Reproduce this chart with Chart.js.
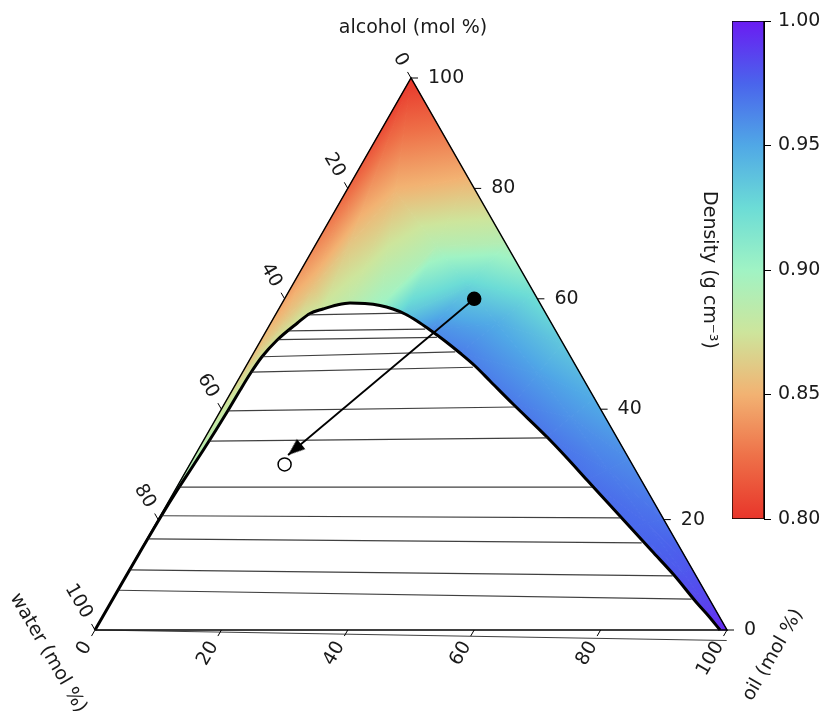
<!DOCTYPE html>
<html>
<head>
<meta charset="utf-8">
<script src="https://cdn.jsdelivr.net/npm/chart.js@4.4.1/dist/chart.umd.min.js"></script>
<style>
  body { margin: 0; background: #fff; }
  #wrap { position: relative; width: 825px; height: 715px; }
  canvas { position: absolute; top: 0; }
</style>
</head>
<body>
<div id="wrap">
  <canvas id="ternary" width="825" height="715" style="left:0"></canvas>
  <canvas id="colorbar" width="145" height="715" style="left:680px"></canvas>
</div>
<script>
// Ternary axis ticks (mol %)
const ternaryTicks = [0, 20, 40, 60, 80, 100];

// Binodal curve (alcohol / oil in mol %, water is the rest)
const binodalAlcohol = [0, 7.25, 13.95, 20.65, 25.36, 28.99, 32.61, 36.23, 39.86, 43.48, 46.56, 49.46, 52.54, 55.62, 57.34, 58.15,
    58.88, 59.24, 59.15, 58.79, 58.15, 57.25, 55.98, 54.35, 52.36, 50.18, 47.83, 45.11, 40.94, 34.96, 31.16, 27.17, 23.01,
    18.66, 14.31, 9.96, 4.89, 2.63, 0];
const binodalOil = [0, 0.02, 0.06, 0.16, 0.35, 0.60, 0.84, 1.03, 1.16, 1.23, 1.35, 1.66, 2.56, 4.22, 5.35, 7.0,
    8.85, 10.73, 13.14, 15.70, 18.07, 20.43, 22.96, 25.84, 29.2, 32.66, 36.22, 39.95, 45.67, 54.04, 59.10, 64.26, 69.67,
    75.32, 80.97, 86.63, 92.80, 95.70, 98.9];

// Tie lines (water-rich end -> oil-rich end)
const tieLeftAlcohol = [57.1, 54.2, 52.6, 49.5, 46.7, 39.7, 34.2, 25.9, 20.7, 16.5, 10.9, 7.2, 0];
const tieLeftOil = [5.19, 3.45, 2.6, 1.67, 1.36, 1.16, 0.92, 0.38, 0.16, 0.1, 0.04, 0.02, 0];
const tieRightAlcohol = [57.4, 54.5, 53.0, 50.4, 47.6, 40.4, 34.8, 25.9, 20.3, 15.8, 9.8, 5.6, -1.9];
const tieRightOil = [19.8, 25.0, 27.6, 31.8, 36.0, 46.3, 54.2, 65.7, 73.0, 78.6, 86.5, 91.6, 100.9];

// Mixture points: filled = start, open = after adding water
const mixAlcohol = [60, 30];
const mixOil = [30, 15];
const arrowTip = [31.7, 14.7]; // alcohol, oil

// Density field, read along spokes from a binodal point to the triangle edge
const fieldSpoke = [3, 5, 8, 11, 13, 15, 17, 19, 21, 23, 25, 28, 29, 31, 33, 35, 36, 38];
const fieldEdgeAlcohol = [21, 30, 41, 51, 58, 66, 80, 100, 82, 70, 61, 52, 42, 31, 20, 11, 6, 0];
const fieldEdgeOil = [0, 0, 0, 0, 0, 0, 0, 0, 18, 30, 39, 48, 58, 69, 80, 89, 94, 100];
const densityInner = [0.893, 0.893, 0.885, 0.876, 0.875, 0.877, 0.885, 0.900, 0.935, 0.960, 0.965, 0.967, 0.968, 0.970, 0.973, 0.980, 0.985, 0.995];
const densityMid = [0.893, 0.890, 0.878, 0.865, 0.860, 0.858, 0.860, 0.852, 0.888, 0.930, 0.948, 0.953, 0.958, 0.965, 0.972, 0.979, 0.985, 0.995];
const densityEdge = [0.893, 0.888, 0.870, 0.853, 0.846, 0.838, 0.820, 0.800, 0.850, 0.890, 0.922, 0.935, 0.948, 0.960, 0.970, 0.980, 0.985, 0.995];

// Colour bar
const densityTicks = [0.80, 0.85, 0.90, 0.95, 1.00];
const cmapDensity = [0.80, 0.825, 0.85, 0.875, 0.90, 0.925, 0.95, 0.975, 1.00];
const cmapColor = ['#e8352a', '#ee7048', '#f2b272', '#cde59c', '#a0f3c4', '#6cdcd6', '#50a8e6', '#4a64ec', '#6a1cf2'];

Chart.defaults.font.family = "'DejaVu Sans', sans-serif";
Chart.defaults.font.size = 19;
Chart.defaults.color = '#1a1a1a';

const toXY = (a, o) => ({ x: o + a / 2, y: a });

const hexRgb = h => [1, 3, 5].map(i => parseInt(h.slice(i, i + 2), 16));
const cmapRgb = cmapColor.map(hexRgb);
function cmap(d) {
    if (d <= cmapDensity[0]) return 'rgb(' + cmapRgb[0].join(',') + ')';
    for (let i = 0; i < cmapDensity.length - 1; i++) {
        if (d <= cmapDensity[i + 1]) {
            const t = (d - cmapDensity[i]) / (cmapDensity[i + 1] - cmapDensity[i]);
            const c = cmapRgb[i].map((v, k) => Math.round(v + t * (cmapRgb[i + 1][k] - v)));
            return 'rgb(' + c.join(',') + ')';
        }
    }
    return 'rgb(' + cmapRgb[cmapRgb.length - 1].join(',') + ')';
}

// Gouraud style shading of one triangle (density linear inside)
function shadeTriangle(ctx, p, d) {
    const e1x = p[1].x - p[0].x, e1y = p[1].y - p[0].y;
    const e2x = p[2].x - p[0].x, e2y = p[2].y - p[0].y;
    const det = e1x * e2y - e1y * e2x;
    if (Math.abs(det) < 1e-6) return;
    const ga = ((d[1] - d[0]) * e2y - e1y * (d[2] - d[0])) / det;
    const gb = (e1x * (d[2] - d[0]) - (d[1] - d[0]) * e2x) / det;
    const g2 = ga * ga + gb * gb;
    const dmin = Math.min(...d), dmax = Math.max(...d);
    let style;
    if (g2 < 1e-12 || dmax - dmin < 1e-6) {
        style = cmap(dmin);
    } else {
        const sx = p[0].x + ga * (dmin - d[0]) / g2, sy = p[0].y + gb * (dmin - d[0]) / g2;
        const ex = p[0].x + ga * (dmax - d[0]) / g2, ey = p[0].y + gb * (dmax - d[0]) / g2;
        style = ctx.createLinearGradient(sx, sy, ex, ey);
        style.addColorStop(0, cmap(dmin));
        cmapDensity.forEach(v => {
            if (v > dmin && v < dmax) style.addColorStop((v - dmin) / (dmax - dmin), cmap(v));
        });
        style.addColorStop(1, cmap(dmax));
    }
    ctx.beginPath();
    ctx.moveTo(p[0].x, p[0].y);
    ctx.lineTo(p[1].x, p[1].y);
    ctx.lineTo(p[2].x, p[2].y);
    ctx.closePath();
    ctx.fillStyle = style;
    ctx.strokeStyle = style;
    ctx.lineWidth = 1;
    ctx.fill();
    ctx.stroke();
}

const fieldPlugin = {
    id: 'densityField',
    beforeDatasetsDraw(chart) {
        const { ctx, scales: { x, y } } = chart;
        const px = (a, o) => ({ x: x.getPixelForValue(o + a / 2), y: y.getPixelForValue(a) });
        const inner = [], mid = [], edge = [];
        fieldSpoke.forEach((k, i) => {
            const ia = binodalAlcohol[k], io = binodalOil[k];
            const ea = fieldEdgeAlcohol[i], eo = fieldEdgeOil[i];
            inner.push(px(ia, io));
            mid.push(px((ia + ea) / 2, (io + eo) / 2));
            edge.push(px(ea, eo));
        });
        ctx.save();
        for (let i = 0; i < fieldSpoke.length - 1; i++) {
            const j = i + 1;
            shadeTriangle(ctx, [inner[i], mid[i], mid[j]], [densityInner[i], densityMid[i], densityMid[j]]);
            shadeTriangle(ctx, [inner[i], mid[j], inner[j]], [densityInner[i], densityMid[j], densityInner[j]]);
            shadeTriangle(ctx, [mid[i], edge[i], edge[j]], [densityMid[i], densityEdge[i], densityEdge[j]]);
            shadeTriangle(ctx, [mid[i], edge[j], mid[j]], [densityMid[i], densityEdge[j], densityMid[j]]);
        }
        ctx.restore();
    }
};

// Ticks, tick labels and axis titles of the three ternary axes
const ternaryAxes = {
    id: 'ternaryAxes',
    afterDatasetsDraw(chart) {
        const { ctx, scales: { x, y } } = chart;
        const px = (a, o) => ({ x: x.getPixelForValue(o + a / 2), y: y.getPixelForValue(a) });
        const s = Math.sqrt(3) / 2;
        const tl = 7, pad = 15;
        ctx.save();
        ctx.strokeStyle = '#000';
        ctx.lineWidth = 1;
        ctx.fillStyle = '#1a1a1a';
        ctx.font = "19px 'DejaVu Sans'";
        ctx.textBaseline = 'middle';
        const tick = (p, dx, dy) => {
            ctx.beginPath();
            ctx.moveTo(p.x, p.y);
            ctx.lineTo(p.x + dx * tl, p.y + dy * tl);
            ctx.stroke();
        };
        const rotLabel = (p, dx, dy, rot, text) => {
            ctx.save();
            ctx.translate(p.x + dx * pad, p.y + dy * pad);
            ctx.rotate(rot);
            ctx.textAlign = 'right';
            ctx.fillText(text, 0, 0);
            ctx.restore();
        };
        ternaryTicks.forEach(v => {
            // alcohol, right edge
            let p = px(v, 100 - v);
            tick(p, 1, 0);
            ctx.textAlign = 'left';
            ctx.fillText(String(v), p.x + 17, p.y);
            // water, left edge
            p = px(100 - v, 0);
            tick(p, -0.5, -s);
            rotLabel(p, -0.5, -s, Math.PI / 3, String(v));
            // oil, bottom edge
            p = px(0, v);
            tick(p, -0.5, s);
            rotLabel(p, -0.5, s, -Math.PI / 3, String(v));
        });
        const top = px(100, 0), water = px(0, 0), oil = px(0, 100);
        ctx.textAlign = 'center';
        ctx.fillText('alcohol (mol %)', top.x + 2, top.y - 50);
        ctx.save();
        ctx.translate(water.x - 47, water.y + 23);
        ctx.rotate(Math.PI / 3);
        ctx.fillText('water (mol %)', 0, 0);
        ctx.restore();
        ctx.save();
        ctx.translate(oil.x + 46, oil.y + 25);
        ctx.rotate(-Math.PI / 3);
        ctx.fillText('oil (mol %)', 0, 0);
        ctx.restore();
        ctx.restore();
    }
};

// Arrow head drawn once, used as point style
const arrowHead = document.createElement('canvas');
arrowHead.width = 40;
arrowHead.height = 20;
const actx = arrowHead.getContext('2d');
actx.fillStyle = '#000';
actx.beginPath();
actx.moveTo(20, 10);
actx.lineTo(3, 3.5);
actx.lineTo(3, 16.5);
actx.closePath();
actx.fill();

const line = (data, extra) => Object.assign({
    data, showLine: true, pointRadius: 0, borderColor: '#000', borderWidth: 1, fill: false, clip: false
}, extra);

const datasets = [
    line(binodalAlcohol.map((a, i) => toXY(a, binodalOil[i])), {
        borderWidth: 3, fill: 'origin', backgroundColor: '#fff', cubicInterpolationMode: 'monotone', order: 5
    }),
    line([toXY(0, 0), toXY(100, 0), toXY(0, 100), toXY(0, 0)], { borderWidth: 1.5, order: 4 }),
    ...tieLeftAlcohol.map((a, i) => line(
        [toXY(a, tieLeftOil[i]), toXY(tieRightAlcohol[i], tieRightOil[i])],
        { borderColor: 'rgba(30,30,30,0.85)', borderWidth: 1.2, order: 3 })),
    line([toXY(mixAlcohol[0], mixOil[0]), toXY(arrowTip[0], arrowTip[1])], {
        borderWidth: 1.8,
        pointRadius: [0, 8],
        pointStyle: ['circle', arrowHead],
        rotation: c => {
            if (c.dataIndex !== 1) return 0;
            const xs = c.chart.scales.x, ys = c.chart.scales.y, d = c.dataset.data;
            return Math.atan2(ys.getPixelForValue(d[1].y) - ys.getPixelForValue(d[0].y),
                xs.getPixelForValue(d[1].x) - xs.getPixelForValue(d[0].x)) * 180 / Math.PI;
        },
        order: 1
    }),
    {
        data: mixAlcohol.map((a, i) => toXY(a, mixOil[i])),
        showLine: false, clip: false,
        pointRadius: 6.5,
        pointBackgroundColor: ['#000', '#fff'],
        pointBorderColor: '#000',
        pointBorderWidth: 1.5,
        order: 0
    }
];

new Chart(document.getElementById('ternary'), {
    type: 'scatter',
    data: { datasets },
    options: {
        responsive: false,
        animation: false,
        layout: { padding: { left: 95, right: 98, top: 78, bottom: 85 } },
        plugins: { legend: { display: false }, tooltip: { enabled: false } },
        scales: {
            x: { type: 'linear', min: 0, max: 100, display: false },
            y: { type: 'linear', min: 0, max: 100, display: false }
        }
    },
    plugins: [fieldPlugin, ternaryAxes]
});

// Colour bar
const cbTitle = {
    id: 'cbTitle',
    afterDraw(chart) {
        const { ctx, chartArea } = chart;
        ctx.save();
        ctx.translate(29, (chartArea.top + chartArea.bottom) / 2);
        ctx.rotate(Math.PI / 2);
        ctx.font = "19px 'DejaVu Sans'";
        ctx.fillStyle = '#1a1a1a';
        ctx.textAlign = 'center';
        ctx.textBaseline = 'middle';
        ctx.fillText('Density (g cm\u207B\u00B3)', 0, 0);
        ctx.restore();
    }
};

function barGradient(chart) {
    const area = chart.chartArea;
    if (!area) return cmapColor[0];
    const ys = chart.scales.y;
    const lo = densityTicks[0], hi = densityTicks[densityTicks.length - 1];
    const g = chart.ctx.createLinearGradient(0, ys.getPixelForValue(lo), 0, ys.getPixelForValue(hi));
    cmapDensity.forEach((v, i) => g.addColorStop((v - lo) / (hi - lo), cmapColor[i]));
    return g;
}

new Chart(document.getElementById('colorbar'), {
    type: 'bar',
    data: {
        labels: [''],
        datasets: [{
            data: [[densityTicks[0], densityTicks[densityTicks.length - 1]]],
            backgroundColor: c => barGradient(c.chart),
            borderColor: '#000',
            borderWidth: 1,
            borderSkipped: false,
            barPercentage: 1,
            categoryPercentage: 1
        }]
    },
    options: {
        responsive: false,
        animation: false,
        layout: { padding: { left: 52, top: 21, bottom: 196, right: 0 } },
        plugins: { legend: { display: false }, tooltip: { enabled: false } },
        scales: {
            x: { display: false },
            y: {
                position: 'right',
                min: densityTicks[0],
                max: densityTicks[densityTicks.length - 1],
                afterBuildTicks: axis => { axis.ticks = densityTicks.map(v => ({ value: v })); },
                afterFit: axis => { axis.width = 61; },
                grid: { drawOnChartArea: false, drawTicks: true, tickLength: 7, color: '#000' },
                border: { display: true, color: '#000' },
                ticks: { padding: 7, color: '#1a1a1a', font: { size: 19 }, callback: v => v.toFixed(2) }
            }
        }
    },
    plugins: [cbTitle]
});
</script>
</body>
</html>
